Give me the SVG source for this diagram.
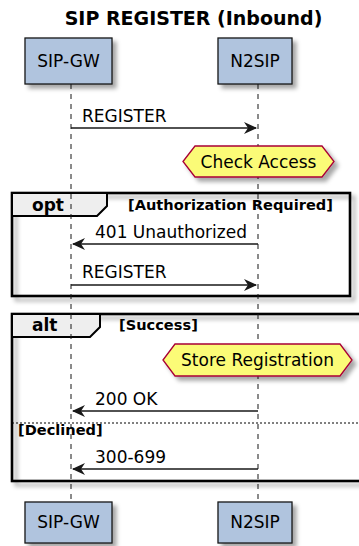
<svg xmlns="http://www.w3.org/2000/svg" width="359" height="546" viewBox="0 0 359 546">
<defs>
<filter id="sh" x="-10%" y="-10%" width="130%" height="140%">
<feDropShadow dx="4" dy="4" stdDeviation="2" flood-color="#000" flood-opacity="0.35"/>
</filter>
<style>
.part{fill:#B0C4DE;stroke:#181818;stroke-width:1.3}
.ptxt{font-family:"DejaVu Sans",sans-serif;font-size:17px;fill:#000;text-anchor:middle}
.life{stroke:#181818;stroke-width:2;stroke-dasharray:5,5;opacity:0.5}
.msg{stroke:#181818;stroke-width:1.3}
.mtxt{font-family:"DejaVu Sans",sans-serif;font-size:17px;fill:#000}
.note{fill:#FBFB77;stroke:#A80036;stroke-width:1.3}
.frame{fill:none;stroke:#000;stroke-width:2.6}
.tab{fill:#EEEEEE;stroke:#000;stroke-width:2}
.ftit{font-family:"DejaVu Sans",sans-serif;font-size:17px;font-weight:bold;fill:#000}
.fcond{font-family:"DejaVu Sans",sans-serif;font-size:14.6px;font-weight:bold;fill:#000}
.head{fill:#181818}
</style>
</defs>
<text x="193.5" y="25" font-family="DejaVu Sans,sans-serif" font-size="19" font-weight="bold" text-anchor="middle">SIP REGISTER (Inbound)</text>

<g id="frames">
<rect class="frame" x="12" y="193" width="338" height="103" filter="url(#sh)"/>
<polygon class="tab" points="12,193 107,193 107,206 97,216 12,216"/>
<text class="ftit" x="32" y="211">opt</text>
<text class="fcond" x="128" y="210">[Authorization Required]</text>
<rect class="frame" x="12" y="314" width="360" height="167" filter="url(#sh)"/>
<polygon class="tab" points="12,314 100,314 100,327 90,337 12,337"/>
<text class="ftit" x="32" y="331">alt</text>
<text class="fcond" x="119" y="330">[Success]</text>
<line x1="12" y1="423" x2="359" y2="423" stroke="#000" stroke-width="1" stroke-dasharray="2,2"/>
<text class="fcond" x="18" y="435">[Declined]</text>
</g>

<g id="lifelines">
<line class="life" x1="71" y1="84" x2="71" y2="502"/>
<line class="life" x1="258" y1="84" x2="258" y2="502"/>
</g>

<g id="SIP-GW">
<rect class="part" x="25" y="38" width="87" height="46" filter="url(#sh)"/>
<text class="ptxt" x="68.5" y="67">SIP-GW</text>
<rect class="part" x="25" y="502" width="87" height="41" filter="url(#sh)"/>
<text class="ptxt" x="68.5" y="528">SIP-GW</text>
</g>
<g id="N2SIP">
<rect class="part" x="218" y="38" width="74" height="46" filter="url(#sh)"/>
<text class="ptxt" x="255" y="67">N2SIP</text>
<rect class="part" x="218" y="502" width="74" height="41" filter="url(#sh)"/>
<text class="ptxt" x="255" y="528">N2SIP</text>
</g>

<g id="note-check">
<polygon class="note" points="183,161.5 195,146 322,146 334,161.5 322,177 195,177" filter="url(#sh)"/>
<text class="mtxt" x="258.5" y="168" text-anchor="middle">Check Access</text>
</g>
<g id="note-store">
<polygon class="note" points="163,360 175,344 340,344 352,360 340,376 175,376" filter="url(#sh)"/>
<text class="mtxt" x="257.5" y="366" text-anchor="middle">Store Registration</text>
</g>

<g id="connectors">
<line class="msg" x1="71" y1="128" x2="256" y2="128"/>
<polygon class="head" points="257,128 244,122 248,128 244,134"/>
<text class="mtxt" x="82" y="122">REGISTER</text>

<line class="msg" x1="73" y1="244" x2="258" y2="244"/>
<polygon class="head" points="72,244 85,238 81,244 85,250"/>
<text class="mtxt" x="95" y="238">401 Unauthorized</text>

<line class="msg" x1="71" y1="285" x2="256" y2="285"/>
<polygon class="head" points="257,285 244,279 248,285 244,291"/>
<text class="mtxt" x="82" y="278">REGISTER</text>

<line class="msg" x1="73" y1="411" x2="258" y2="411"/>
<polygon class="head" points="72,411 85,405 81,411 85,417"/>
<text class="mtxt" x="95" y="405">200 OK</text>

<line class="msg" x1="73" y1="469" x2="258" y2="469"/>
<polygon class="head" points="72,469 85,463 81,469 85,475"/>
<text class="mtxt" x="95" y="463">300-699</text>
</g>
</svg>
